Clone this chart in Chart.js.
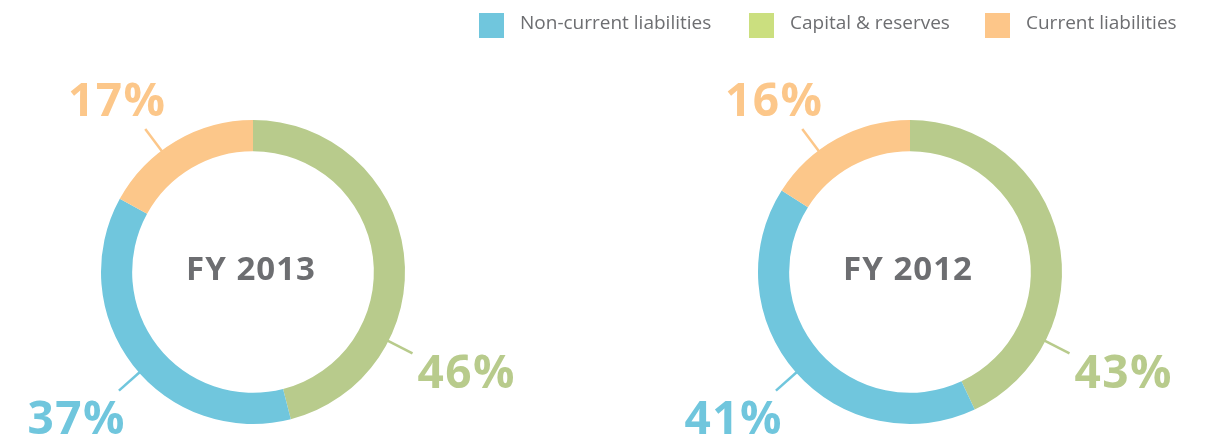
<!DOCTYPE html>
<html>
<head>
<meta charset="utf-8">
<script src="https://cdn.jsdelivr.net/npm/chart.js@4.4.0/dist/chart.umd.min.js"></script>
<style>
  html, body { margin: 0; padding: 0; background: #fff; }
  #wrap { position: relative; width: 1208px; height: 442px; overflow: hidden; }
  .chartBox { position: absolute; top: 0; width: 604px; height: 442px; }
  .legendItem { position: absolute; top: 10px; height: 25px; line-height: 25px;
    font-family: "Open Sans", sans-serif; font-size: 19px; color: #6d6e71; white-space: nowrap; }
  .legendItem span { position: absolute; top: 3px; width: 25px; height: 25px; }
</style>
</head>
<body>
<div id="wrap">
  <div class="chartBox" style="left:0"><canvas id="chart2013"></canvas></div>
  <div class="chartBox" style="left:604px"><canvas id="chart2012"></canvas></div>
  <div id="legend"></div>
</div>
<script>
// Data (segments start at 12 o'clock, clockwise)
const categories = ['Capital & reserves', 'Non-current liabilities', 'Current liabilities'];
const fy2013 = [46, 37, 17];
const fy2012 = [43, 41, 16];
const years = ['FY 2013', 'FY 2012'];
const legendOrder = ['Non-current liabilities', 'Capital & reserves', 'Current liabilities'];

const ringColors = ['#b8cb8c', '#70c6dd', '#fcc78a'];
const legendColors = {
    'Non-current liabilities': '#70c6dd',
    'Capital & reserves': '#cbdf7f',
    'Current liabilities': '#fdc689'
};

// leader lines sit at the same clock angle (degrees from 12 o'clock) on both rings
const leaderAngles = [117, 228.5, 323];
const labelPlacement = [
    { align: 'left', dx: 5, dy: 35 },
    { align: 'right', dx: 7, dy: 43 },
    { align: 'center', dx: -28, dy: -13 }
];

const labelFont = 'bold 46px "Open Sans", sans-serif';

const percentLabels = {
    id: 'percentLabels',
    afterDatasetsDraw(chart) {
        const ctx = chart.ctx;
        const meta = chart.getDatasetMeta(0);
        const values = chart.data.datasets[0].data;
        meta.data.forEach((arc, i) => {
            const p = arc.getProps(['x', 'y', 'outerRadius'], true);
            const a = (leaderAngles[i] - 90) * Math.PI / 180;
            const r1 = p.outerRadius - 1;
            const r2 = p.outerRadius + 27;
            const x1 = p.x + Math.cos(a) * r1, y1 = p.y + Math.sin(a) * r1;
            const x2 = p.x + Math.cos(a) * r2, y2 = p.y + Math.sin(a) * r2;
            ctx.save();
            ctx.strokeStyle = ringColors[i];
            ctx.lineWidth = 2.5;
            ctx.beginPath();
            ctx.moveTo(x1, y1);
            ctx.lineTo(x2, y2);
            ctx.stroke();
            const pl = labelPlacement[i];
            ctx.fillStyle = ringColors[i];
            ctx.font = labelFont;
            ctx.letterSpacing = '1.5px';
            ctx.textAlign = pl.align;
            ctx.textBaseline = 'alphabetic';
            ctx.fillText(values[i] + '%', x2 + pl.dx, y2 + pl.dy);
            ctx.restore();
        });
    }
};

const centerTitle = {
    id: 'centerTitle',
    afterDraw(chart) {
        const arc = chart.getDatasetMeta(0).data[0];
        if (!arc) return;
        const ctx = chart.ctx;
        ctx.save();
        ctx.fillStyle = '#6d6e71';
        ctx.font = 'bold 33px "Open Sans", sans-serif';
        ctx.letterSpacing = '1px';
        ctx.textAlign = 'center';
        ctx.textBaseline = 'alphabetic';
        ctx.fillText(chart.options.plugins.centerTitle.text, arc.x - 2, arc.y + 8);
        ctx.restore();
    }
};

function makeDonut(id, values, title, padding) {
    return new Chart(document.getElementById(id), {
        type: 'doughnut',
        data: {
            labels: categories,
            datasets: [{
                data: values,
                backgroundColor: ringColors,
                borderWidth: 0,
                hoverOffset: 0
            }]
        },
        options: {
            responsive: true,
            maintainAspectRatio: false,
            animation: false,
            cutout: '79.5%',
            layout: { padding: padding },
            plugins: {
                legend: { display: false },
                tooltip: { enabled: false },
                centerTitle: { text: title }
            }
        },
        plugins: [percentLabels, centerTitle]
    });
}

makeDonut('chart2013', fy2013, years[0], { left: 101, right: 199, top: 120, bottom: 18 });
makeDonut('chart2012', fy2012, years[1], { left: 154, right: 146, top: 120, bottom: 18 });

// legend across the top right
const legendX = [479, 749, 985];
const legendEl = document.getElementById('legend');
legendOrder.forEach((name, i) => {
    const item = document.createElement('div');
    item.className = 'legendItem';
    item.style.left = legendX[i] + 'px';
    item.innerHTML = '<span style="left:0;background:' + legendColors[name] + '"></span>' +
        '<div style="position:absolute;left:41px;top:0">' + name.replace('&', '&amp;') + '</div>';
    legendEl.appendChild(item);
});
</script>
</body>
</html>
